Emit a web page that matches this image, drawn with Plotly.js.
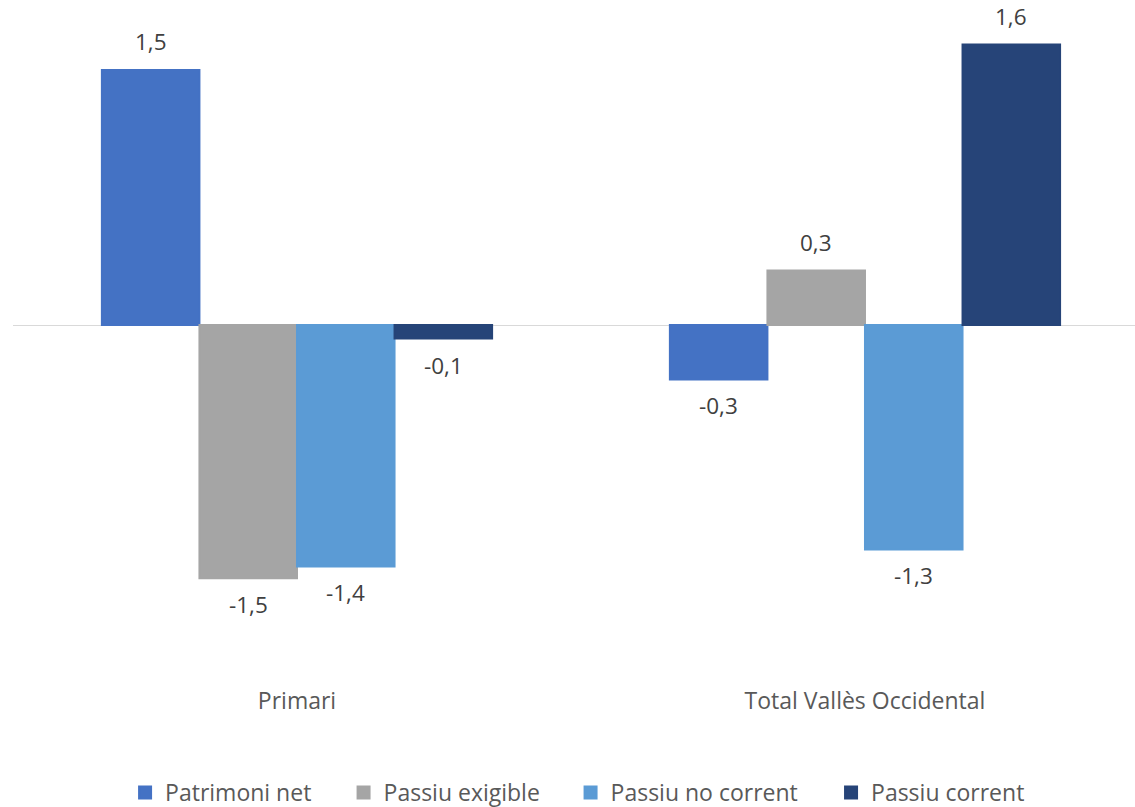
<!DOCTYPE html>
<html>
<head>
<meta charset="utf-8">
<script src="https://cdn.plot.ly/plotly-3.0.1.min.js"></script>
<style>
  html, body { margin: 0; padding: 0; background: #ffffff; }
  #chart { width: 1135px; height: 807px; }
</style>
</head>
<body>
<div id="chart"></div>
<script>
// ---- data ----
const categories = ["Primari", "Total Vallès Occidental"];
const seriesNames = ["Patrimoni net", "Passiu exigible", "Passiu no corrent", "Passiu corrent"];
const patrimoniNet = [1.50, -0.32];
const passiuExigible = [-1.49, 0.32];
const passiuNoCorrent = [-1.42, -1.32];
const passiuCorrent = [-0.08, 1.65];
const seriesValues = [patrimoniNet, passiuExigible, passiuNoCorrent, passiuCorrent];

// ---- styles ----
const colors = ["#4472C4", "#A5A5A5", "#5B9BD5", "#264478"];
const FONT = "'Open Sans', 'Noto Sans', sans-serif";
const bargap = 0.313;
const nSeries = seriesValues.length;
const barWidth = (1 - bargap) / nSeries;
const legendIds = ['legend', 'legend2', 'legend3', 'legend4'];
const legendX = [0.1102, 0.3027, 0.5027, 0.7322];

const fmt = v => v.toFixed(1).replace('.', ',');

const traces = seriesValues.map((vals, j) => ({
  type: 'bar',
  name: seriesNames[j],
  x: categories,
  y: vals,
  legend: legendIds[j],
  marker: { color: colors[j], line: { width: 2, color: colors[j] } },
  hoverinfo: 'none'
}));

const annotations = [];
seriesValues.forEach((vals, j) => {
  vals.forEach((v, i) => {
    annotations.push({
      xref: 'x', yref: 'y',
      x: i + (j - (nSeries - 1) / 2) * barWidth,
      y: v,
      text: fmt(v),
      showarrow: false,
      xanchor: 'center',
      yanchor: v >= 0 ? 'bottom' : 'top',
      yshift: v >= 0 ? 11 : -9,
      font: { family: FONT, size: 22.5, color: '#404040' }
    });
  });
});

const layout = {
  width: 1135,
  height: 807,
  margin: { l: 13, r: 0, t: 20, b: 122, pad: 0 },
  paper_bgcolor: '#ffffff',
  plot_bgcolor: '#ffffff',
  barmode: 'group',
  bargap: bargap,
  bargroupgap: 0,
  showlegend: true,
  font: { family: FONT, size: 23, color: '#595959' },
  xaxis: {
    type: 'category',
    range: [-0.5, 1.4754],
    showgrid: false,
    showline: false,
    zeroline: false,
    ticks: '',
    automargin: false,
    tickfont: { family: FONT, size: 23, color: '#595959' },
    fixedrange: true
  },
  yaxis: {
    range: [-2.1176, 1.7941],
    showgrid: false,
    showticklabels: false,
    showline: false,
    ticks: '',
    automargin: false,
    zeroline: true,
    zerolinecolor: '#D9D9D9',
    zerolinewidth: 1,
    fixedrange: true
  },
  annotations: annotations
};

legendIds.forEach((id, j) => {
  layout[id] = {
    orientation: 'h',
    xref: 'container', yref: 'container',
    x: legendX[j], xanchor: 'left',
    y: 14.5 / 807, yanchor: 'middle',
    font: { family: FONT, size: 23, color: '#595959' },
    itemwidth: 30,
    bgcolor: 'rgba(0,0,0,0)',
    borderwidth: 0
  };
});

Plotly.newPlot('chart', traces, layout, { displayModeBar: false, staticPlot: true });
</script>
</body>
</html>
